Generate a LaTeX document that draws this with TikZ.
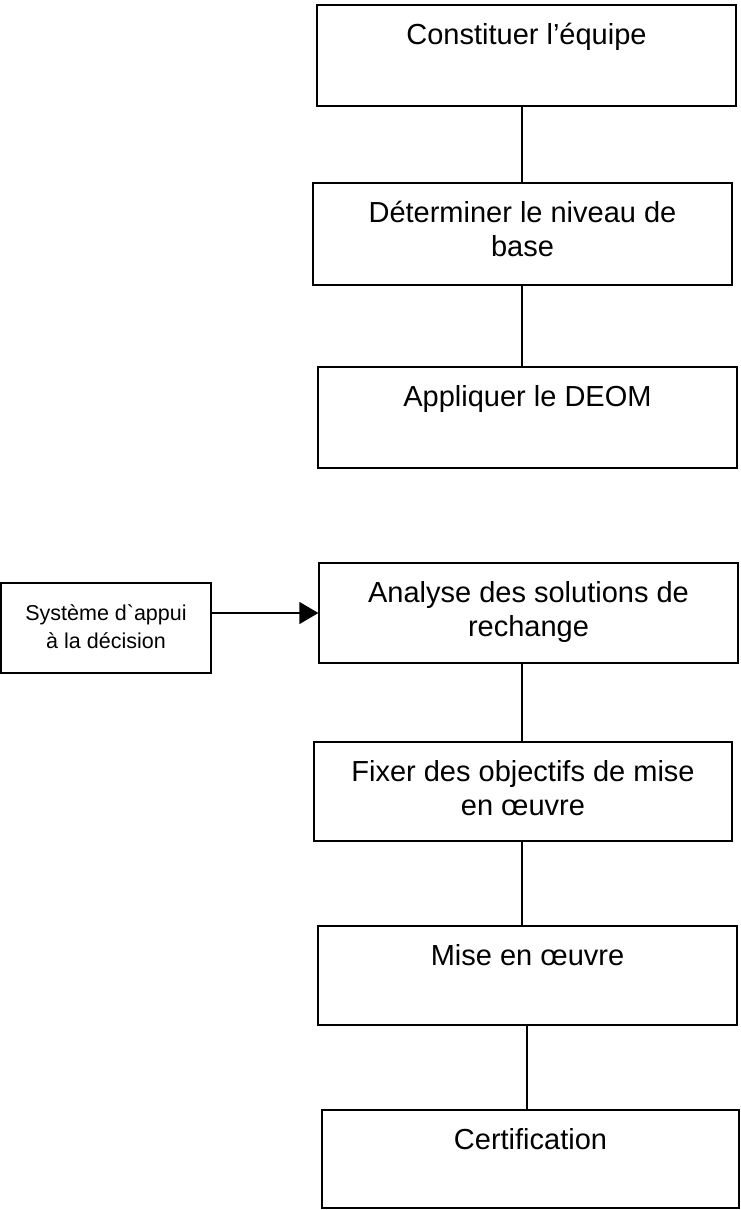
\documentclass[tikz,border=0pt]{standalone}
\usepackage{fontspec}
\setmainfont{Liberation Sans}[Ligatures=TeXOff]
\usetikzlibrary{arrows.meta}
\begin{document}
\begin{tikzpicture}[x=1pt,y=-1pt,
  box/.style={draw=black,line width=1.3pt,rectangle,inner sep=0pt,fill=none},
  bigtext/.style={font=\fontsize{29}{34}\selectfont,align=center,inner sep=0pt,anchor=north,yshift=-15.7pt},
  smalltext/.style={font=\fontsize{21.5}{28}\selectfont,align=center,inner sep=0pt,anchor=north,yshift=-18.2pt},
  link/.style={draw=black,line width=1.3pt}]
\useasboundingbox (0,0) rectangle (740,1210);
% main boxes
\node[box,minimum width=419pt,minimum height=101pt] (b1) at (526.5,55.5) {};
\node[box,minimum width=419pt,minimum height=102pt] (b2) at (522.5,234) {};
\node[box,minimum width=419pt,minimum height=101pt] (b3) at (527.5,417.5) {};
\node[box,minimum width=419pt,minimum height=100pt] (b4) at (528.5,613) {};
\node[box,minimum width=210pt,minimum height=90pt] (s) at (106,628) {};
\node[box,minimum width=418pt,minimum height=99pt] (b5) at (523,791.5) {};
\node[box,minimum width=419pt,minimum height=99pt] (b6) at (527.5,975.5) {};
\node[box,minimum width=417pt,minimum height=98pt] (b7) at (530.5,1159) {};
% texts
\node[bigtext] (t1) at (b1.north) {\strut Constituer l’équipe};
\node[bigtext] (t2) at (b2.north) {\strut Déterminer le niveau de\\base};
\node[bigtext] (t3) at (b3.north) {\strut Appliquer le DEOM};
\node[bigtext] (t4) at (b4.north) {\strut Analyse des solutions de\\rechange};
\node[smalltext] (ts) at (s.north) {\strut Système d\symbol{96}appui\\à la décision};
\node[bigtext] (t5) at (b5.north) {\strut Fixer des objectifs de mise\\en œuvre};
\node[bigtext] (t6) at (b6.north) {\strut Mise en œuvre};
\node[bigtext] (t7) at (b7.north) {\strut Certification};
% connector x positions
\coordinate (xa) at (522,0);
\coordinate (xb) at (527,0);
\draw[link] (b1.south -| xa) -- (b2.north -| xa);
\draw[link] (b2.south -| xa) -- (b3.north -| xa);
\draw[link] (b4.south -| xa) -- (b5.north -| xa);
\draw[link] (b5.south -| xa) -- (b6.north -| xa);
\draw[link] (b6.south -| xb) -- (b7.north -| xb);
\draw[link,-{Triangle[length=19pt,width=22pt]}] (s.east |- b4.west) -- (b4.west);
\end{tikzpicture}
\end{document}
